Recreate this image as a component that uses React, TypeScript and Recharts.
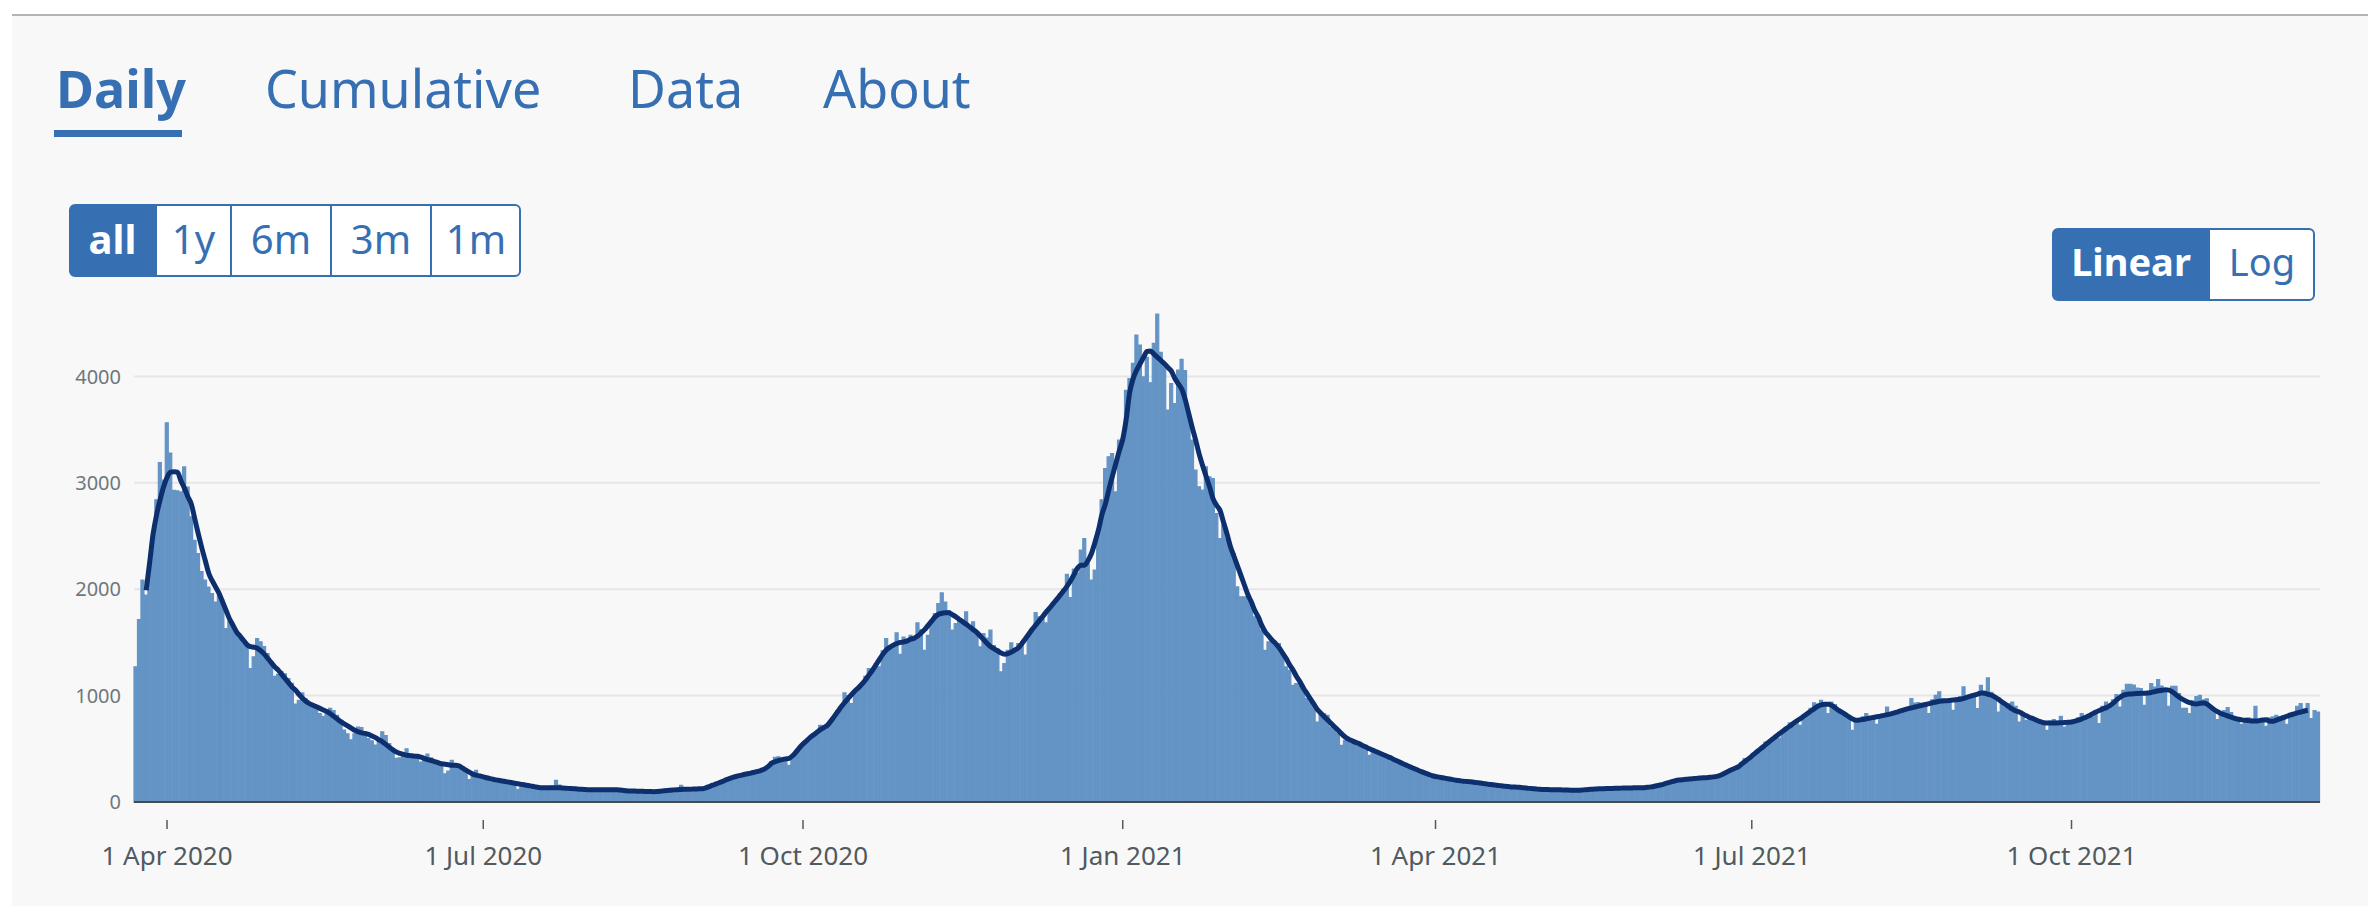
import { ComposedChart, Bar, Line, XAxis, YAxis, CartesianGrid } from 'recharts'

// first bar is 23 Mar 2020, one bar per day up to 11 Dec 2021
const START_DATE = Date.UTC(2020, 2, 23)

// daily values
const dailyValues = [
  1270, 1715, 2085, 1945, 2210, 2510, 2840, 3190, 3025, 3565,
  3280, 2930, 2925, 2915, 3150, 2960, 2680, 2460, 2335, 2165,
  2085, 2020, 1960, 1880, 1960, 1900, 1630, 1695, 1660, 1600,
  1550, 1490, 1460, 1255, 1365, 1535, 1505, 1460, 1395, 1300,
  1180, 1200, 1225, 1205, 1160, 1115, 920, 955, 1025, 970,
  925, 895, 880, 830, 805, 830, 880, 860, 815, 760,
  675, 640, 585, 640, 705, 700, 640, 595, 575, 535,
  580, 660, 625, 550, 485, 410, 415, 460, 500, 450,
  440, 425, 375, 415, 450, 415, 390, 365, 355, 265,
  290, 392, 360, 345, 330, 305, 210, 270, 298, 250,
  235, 230, 215, 210, 205, 198, 200, 190, 185, 175,
  120, 168, 162, 150, 150, 140, 120, 138, 135, 140,
  150, 204, 160, 132, 128, 126, 124, 122, 120, 118,
  116, 118, 115, 117, 114, 116, 118, 115, 116, 112,
  110, 105, 102, 104, 100, 102, 98, 100, 97, 96,
  90, 100, 106, 107, 112, 113, 118, 157, 118, 95,
  92, 122, 125, 124, 132, 145, 160, 172, 180, 200,
  208, 225, 230, 245, 248, 262, 262, 275, 282, 300,
  295, 318, 340, 380, 420, 425, 410, 395, 345, 430,
  480, 510, 540, 560, 600, 640, 660, 721, 715, 700,
  730, 800, 860, 900, 1025, 1000, 925, 1040, 1080, 1110,
  1180, 1254, 1254, 1300, 1270, 1420, 1536, 1470, 1480, 1590,
  1389, 1550, 1520, 1567, 1540, 1683, 1620, 1426, 1567, 1700,
  1771, 1865, 1965, 1880, 1800, 1615, 1677, 1720, 1700, 1787,
  1650, 1693, 1600, 1458, 1583, 1540, 1615, 1470, 1440, 1223,
  1300, 1426, 1495, 1430, 1489, 1470, 1380, 1583, 1620, 1781,
  1740, 1720, 1683, 1820, 1865, 1900, 1960, 2000, 2141, 1922,
  2190, 2150, 2367, 2477, 2240, 2085, 2180, 2524, 2840, 3135,
  3245, 3276, 2915, 3401, 3350, 3870, 3980, 4123, 4389, 4295,
  3997, 4180, 3941, 4311, 4586, 4226, 4091, 3684, 3934, 3746,
  4060, 4160, 4054, 3652, 3401, 3119, 2963, 2931, 3150, 3057,
  3041, 2711, 2477, 2602, 2477, 2367, 2335, 2022, 1928, 1928,
  1928, 1897, 1740, 1710, 1615, 1426, 1505, 1505, 1489, 1489,
  1395, 1270, 1238, 1097, 1113, 1113, 1082, 972, 940, 909,
  752, 831, 831, 815, 705, 690, 643, 533, 580, 564,
  549, 542, 533, 517, 502, 439, 502, 470, 455, 439,
  423, 398, 395, 380, 372, 350, 338, 330, 310, 300,
  282, 270, 262, 248, 238, 236, 226, 224, 214, 210,
  205, 198, 198, 192, 190, 188, 180, 176, 175, 168,
  162, 160, 158, 150, 150, 145, 140, 142, 136, 135,
  130, 128, 126, 120, 120, 118, 116, 118, 114, 116,
  113, 112, 113, 110, 108, 110, 112, 116, 118, 120,
  123, 122, 126, 125, 128, 127, 130, 128, 132, 130,
  132, 134, 133, 135, 136, 137, 143, 148, 156, 162,
  172, 183, 190, 200, 205, 210, 212, 216, 220, 222,
  226, 228, 230, 235, 238, 240, 250, 262, 290, 302,
  320, 330, 365, 408, 395, 420, 455, 490, 510, 564,
  560, 585, 620, 600, 660, 700, 743, 735, 760, 720,
  800, 840, 880, 931, 920, 956, 935, 831, 940, 915,
  860, 840, 820, 790, 674, 770, 785, 800, 831, 790,
  800, 730, 815, 820, 893, 840, 850, 845, 860, 870,
  885, 972, 930, 935, 900, 920, 831, 960, 1003, 1035,
  970, 960, 940, 862, 980, 990, 1082, 970, 1000, 990,
  878, 1097, 1040, 1166, 1030, 1000, 846, 950, 930, 925,
  940, 900, 752, 830, 768, 800, 790, 760, 750, 735,
  674, 760, 774, 760, 806, 705, 740, 760, 765, 790,
  831, 810, 800, 800, 830, 737, 900, 940, 920, 960,
  1010, 893, 1050, 1107, 1107, 1100, 1070, 1065, 909, 1010,
  1113, 1080, 1151, 1090, 1060, 900, 1088, 1088, 1020, 880,
  880, 831, 950, 990, 1003, 960, 970, 880, 860, 774,
  831, 860, 887, 840, 800, 780, 730, 785, 790, 780,
  900, 770, 760, 712, 790, 800, 815, 800, 810, 730,
  820, 840, 900, 925, 870, 925, 784, 860, 846,
]

// 7-day average line as drawn (starts and stops 3 days in)
const averageValues = [
  null, null, null, 1990, 2250, 2520, 2700, 2840, 2960, 3050,
  3100, 3105, 3100, 3020, 2950, 2870, 2800, 2660, 2520, 2390,
  2270, 2150, 2080, 2020, 1960, 1880, 1800, 1720, 1660, 1600,
  1560, 1520, 1480, 1460, 1455, 1445, 1420, 1390, 1350, 1310,
  1270, 1240, 1200, 1160, 1120, 1080, 1050, 1010, 975, 945,
  925, 910, 895, 880, 865, 850, 830, 805, 780, 755,
  735, 715, 695, 675, 660, 650, 645, 635, 620, 605,
  585, 565, 540, 515, 490, 470, 458, 448, 440, 436,
  432, 430, 422, 410, 398, 390, 380, 370, 360, 355,
  350, 345, 345, 340, 320, 300, 280, 262, 252, 245,
  236, 228, 220, 212, 206, 200, 195, 189, 183, 177,
  172, 166, 160, 155, 148, 142, 137, 135, 135, 134,
  134, 133, 133, 131, 129, 127, 125, 122, 120, 118,
  116, 116, 116, 116, 116, 116, 116, 116, 116, 113,
  110, 106, 103, 103, 102, 101, 100, 99, 98, 97,
  99, 102, 105, 108, 111, 114, 116, 118, 119, 120,
  121, 122, 124, 125, 133, 145, 158, 170, 183, 196,
  210, 222, 233, 242, 250, 258, 265, 272, 280, 288,
  298, 312, 335, 365, 380, 390, 398, 405, 410, 435,
  470, 510, 545, 575, 605, 630, 655, 680, 700, 721,
  760, 805, 850, 895, 935, 975, 1010, 1045, 1075, 1110,
  1150, 1195, 1240, 1290, 1340, 1390, 1430, 1455, 1475, 1490,
  1500, 1505, 1515, 1530, 1540, 1560, 1590, 1620, 1660, 1700,
  1740, 1765, 1775, 1778, 1778, 1760, 1740, 1715, 1693, 1670,
  1645, 1620, 1595, 1560, 1525, 1490, 1460, 1440, 1420, 1400,
  1390, 1395, 1410, 1430, 1450, 1490, 1535, 1580, 1625, 1665,
  1705, 1745, 1787, 1825, 1865, 1905, 1944, 1985, 2030, 2080,
  2140, 2200, 2225, 2226, 2270, 2336, 2440, 2555, 2700, 2800,
  2935, 3060, 3180, 3300, 3410, 3600, 3850, 3980, 4060, 4120,
  4180, 4235, 4240, 4210, 4180, 4150, 4120, 4085, 4050, 3981,
  3930, 3880, 3780, 3650, 3520, 3400, 3270, 3160, 3060, 2960,
  2850, 2790, 2740, 2630, 2520, 2400, 2310, 2220, 2130, 2040,
  1950, 1880, 1800, 1740, 1660, 1600, 1560, 1520, 1489, 1450,
  1400, 1350, 1290, 1240, 1180, 1130, 1070, 1020, 970, 920,
  870, 835, 800, 770, 737, 705, 674, 640, 611, 590,
  575, 560, 549, 532, 516, 500, 486, 472, 458, 444,
  430, 417, 400, 385, 370, 355, 340, 326, 312, 298,
  285, 272, 260, 248, 240, 234, 228, 222, 216, 210,
  204, 200, 196, 193, 190, 186, 182, 178, 173, 168,
  164, 160, 156, 152, 148, 145, 142, 140, 138, 135,
  132, 128, 125, 122, 119, 118, 117, 116, 116, 115,
  114, 113, 112, 111, 110, 110, 112, 115, 118, 120,
  122, 124, 125, 126, 127, 128, 129, 130, 131, 131,
  132, 133, 134, 134, 135, 138, 142, 148, 155, 162,
  172, 182, 192, 200, 206, 210, 213, 216, 219, 222,
  225, 228, 229, 232, 236, 241, 252, 268, 285, 300,
  315, 329, 355, 380, 405, 432, 460, 486, 512, 540,
  566, 592, 618, 643, 668, 692, 715, 740, 764, 784,
  808, 832, 855, 878, 900, 913, 918, 919, 908, 885,
  862, 842, 822, 800, 780, 768, 770, 776, 782, 790,
  795, 801, 807, 814, 821, 829, 838, 848, 858, 868,
  877, 885, 893, 901, 909, 917, 925, 933, 940, 947,
  950, 952, 955, 958, 962, 966, 975, 985, 995, 1005,
  1015, 1025, 1022, 1012, 1003, 985, 965, 940, 919, 895,
  872, 855, 846, 828, 810, 795, 782, 768, 755, 745,
  743, 742, 742, 743, 745, 747, 750, 752, 760, 770,
  782, 795, 810, 828, 845, 860, 875, 887, 905, 930,
  960, 985, 1005, 1012, 1015, 1018, 1020, 1022, 1023, 1025,
  1030, 1038, 1045, 1050, 1055, 1052, 1035, 1010, 985, 965,
  948, 935, 925, 922, 928, 931, 920, 895, 870, 850,
  831, 820, 808, 797, 786, 778, 772, 768, 765, 762,
  762, 765, 770, 774, 760, 758, 770, 782, 794, 806,
  818, 828, 838, 846, 855, 862, null, null, null,
]

const tickDates = ['2020-04-01', '2020-07-01', '2020-10-01', '2021-01-01', '2021-04-01', '2021-07-01', '2021-10-01']
const tickLabels = ['1 Apr 2020', '1 Jul 2020', '1 Oct 2020', '1 Jan 2021', '1 Apr 2021', '1 Jul 2021', '1 Oct 2021']
const yTicks = [0, 1000, 2000, 3000, 4000]

const tabs = [
  { label: 'Daily', x: 56, bold: true },
  { label: 'Cumulative', x: 265 },
  { label: 'Data', x: 628 },
  { label: 'About', x: 823 },
]
const rangeButtons = [
  { label: 'all', x0: 69, x1: 156 },
  { label: '1y', x0: 156, x1: 231 },
  { label: '6m', x0: 231, x1: 331 },
  { label: '3m', x0: 331, x1: 431 },
  { label: '1m', x0: 431, x1: 521 },
]

const BLUE = '#3670b3'
const BAR = '#6494c5'
const FONT = '"Noto Sans", sans-serif'

const chartData = dailyValues.map((value, i) => ({
  date: new Date(START_DATE + i * 86400000).toISOString().slice(0, 10),
  daily: value,
  avg: averageValues[i],
}))

const DateTick = ({ x, y, payload }: any) => {
  const idx = tickDates.indexOf(payload.value)
  return (
    <g>
      <line x1={x} x2={x} y1={y + 10} y2={y + 19} stroke="#505a5f" strokeWidth={1.5} />
      <text x={x} y={y + 55} textAnchor="middle" fontSize={26} fill="#505a5f" fontFamily={FONT}>
        {idx >= 0 ? tickLabels[idx] : payload.value}
      </text>
    </g>
  )
}

function Header() {
  return (
    <svg
      width={2368}
      height={320}
      style={{ position: 'absolute', left: 0, top: 0, pointerEvents: 'none' }}
      fontFamily={FONT}
    >
      {tabs.map((t) => (
        <text key={t.label} x={t.x} y={108} fontSize={52} fontWeight={t.bold ? 700 : 400} fill={BLUE}>
          {t.label}
        </text>
      ))}
      <rect x={54} y={130} width={128} height={7} fill={BLUE} />

      <rect x={70} y={205} width={450} height={71} rx={5} fill="#fff" stroke={BLUE} strokeWidth={2} />
      <path d="M75 205 H156 V276 H75 Q70 276 70 271 V210 Q70 205 75 205 Z" fill={BLUE} />
      {rangeButtons.slice(1).map((b) => (
        <line key={b.label} x1={b.x0} x2={b.x0} y1={205} y2={276} stroke={BLUE} strokeWidth={2} />
      ))}
      {rangeButtons.map((b, i) => (
        <text
          key={b.label}
          x={(b.x0 + b.x1) / 2}
          y={254}
          textAnchor="middle"
          fontSize={40}
          fontWeight={i === 0 ? 700 : 400}
          fill={i === 0 ? '#fff' : BLUE}
        >
          {b.label}
        </text>
      ))}

      <rect x={2053} y={229} width={261} height={71} rx={5} fill="#fff" stroke={BLUE} strokeWidth={2} />
      <path d="M2058 229 H2210 V300 H2058 Q2053 300 2053 295 V234 Q2053 229 2058 229 Z" fill={BLUE} />
      <text x={2131} y={276} textAnchor="middle" fontSize={38} fontWeight={700} fill="#fff">
        Linear
      </text>
      <text x={2262} y={276} textAnchor="middle" fontSize={38} fill={BLUE}>
        Log
      </text>
    </svg>
  )
}

export default function App() {
  return (
    <div style={{ position: 'relative', width: 2368, height: 906, background: '#fff', overflow: 'hidden' }}>
      <style>{'body{margin:0}'}</style>
      <div
        style={{
          position: 'absolute',
          left: 12,
          top: 14,
          width: 2356,
          height: 892,
          background: '#f8f8f8',
          borderTop: '2px solid #b1b4b6',
          boxSizing: 'border-box',
        }}
      />
      <div style={{ position: 'absolute', left: 0, top: 0 }}>
        <ComposedChart
          width={2368}
          height={906}
          data={chartData}
          margin={{ top: 302, right: 48, left: 0, bottom: 0 }}
          barCategoryGap={0}
          barGap={0}
        >
          {/* grid rows follow the explicit y ticks only */}
          <CartesianGrid vertical={false} stroke="#e6e6e6" strokeWidth={2} syncWithTicks />
          <XAxis
            dataKey="date"
            ticks={tickDates}
            interval={0}
            height={104}
            tick={<DateTick />}
            tickLine={false}
            axisLine={{ stroke: '#454a4c', strokeWidth: 2 }}
          />
          <YAxis
            domain={[0, 4700]}
            ticks={yTicks}
            width={134}
            axisLine={false}
            tickLine={false}
            tickMargin={7}
            tick={{ fontSize: 20, fill: '#6f777b', fontFamily: FONT }}
          />
          <Bar dataKey="daily" fill={BAR} stroke={BAR} strokeWidth={1.2} isAnimationActive={false} />
          <Line
            dataKey="avg"
            type="monotone"
            stroke="#0d2f6d"
            strokeWidth={5}
            dot={false}
            activeDot={false}
            isAnimationActive={false}
          />
        </ComposedChart>
      </div>
      <Header />
    </div>
  )
}
